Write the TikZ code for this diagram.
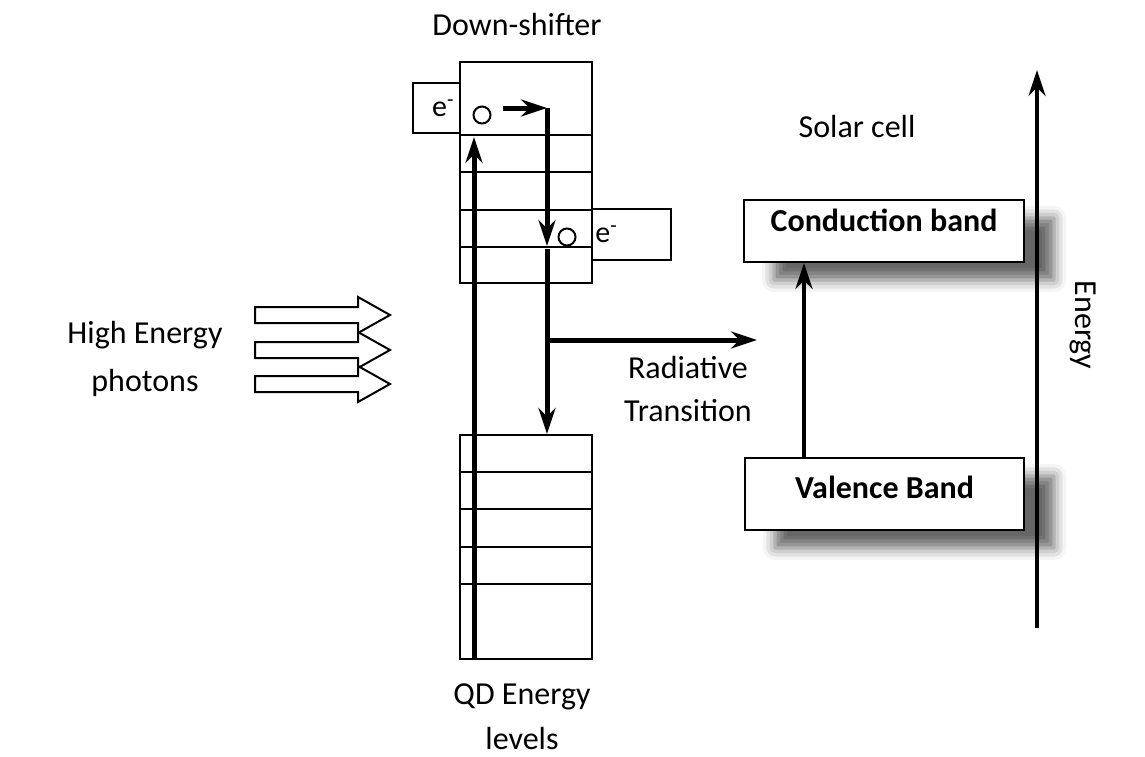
\documentclass[tikz,border=0pt]{standalone}
\usepackage{fontspec}
\setmainfont{Carlito}
\usetikzlibrary{arrows.meta,shadows.blur}

\begin{document}
\begin{tikzpicture}
[x=0.5pt,y=-0.5pt,font=\fontsize{16}{22}\selectfont,
  levelDecorate/.style={shape=rectangle,draw,line width=1pt,inner sep=0pt,minimum width=66pt},
  electronDecorate/.style={shape=circle,draw,line width=1pt,inner sep=0pt,minimum size=8.5pt},
  bandDecorate/.style={shape=rectangle,draw,line width=1pt,inner sep=0pt,fill=white,
    font=\fontsize{16}{20}\selectfont\bfseries,
    blur shadow={shadow xshift=15pt,shadow yshift=-9pt,shadow blur radius=6pt,shadow opacity=60}},
  lineDecorate/.style={line width=2.5pt,-{Stealth[length=13pt,width=8.5pt]}},
  photonDecorate/.style={draw,line width=1pt,fill=white,line join=miter}]
\useasboundingbox (0,0) rectangle (1145,756);
%% electron boxes
\node (eLeft) at (436.5,108) [levelDecorate,minimum width=23.5pt,minimum height=25pt] {};
\node (eRight) at (631.5,234.5) [levelDecorate,minimum width=39.5pt,minimum height=25.5pt] {};
%% QD levels
\foreach \nodename/\y/\h in {
  u1/98.5/36.5, u2/153.5/18.5, u3/191/19, u4/228.5/18.5, u5/265/18,
  l1/453.5/18.5, l2/490.5/18.5, l3/528/19, l4/565.5/18.5, l5/621.5/37.5}
{
  \node (\nodename) at (526,\y) [levelDecorate,minimum height=\h pt] {};
}
\node at (eLeft.east) [anchor=east,inner sep=3pt,font=\fontsize{15}{15}\selectfont] {e\textsuperscript{-}};
\node at (eRight.west) [anchor=west,inner sep=2pt,font=\fontsize{15}{15}\selectfont] {e\textsuperscript{-}};
\node (c1) at (482,115) [electronDecorate] {};
\node (c2) at (567,237) [electronDecorate] {};
%% solar cell bands
\node (cb) at (884,231) [bandDecorate,minimum width=140pt,minimum height=31pt,
  text height=8pt,text depth=8pt] {Conduction band};
\node (vb) at (884.5,494) [bandDecorate,minimum width=139.5pt,minimum height=36pt,
  text height=10pt,text depth=6pt] {Valence Band};
%% photons
\foreach \y in {315,350,384}
{
  \draw[photonDecorate] (255,\y-8) -- (358,\y-8) -- (358,\y-18) -- (390,\y)
    -- (358,\y+18) -- (358,\y+8) -- (255,\y+8) -- cycle;
}
%% transitions
\foreach \cname/\x/\y in {
  hopStart/503/108, hop/547/108, hopEnd/547/246, dropStart/547/249,
  dropEnd/547/434, branch/547/340, radEnd/757/340, pumpStart/474/659,
  pumpEnd/474/137, exciteStart/804/458, exciteEnd/804/263,
  energyStart/1037/628, energyEnd/1037/70}
{
  \coordinate (\cname) at (\x,\y);
}
\path
\foreach \startnode/\endnode in {
  hopStart/hop, hop/hopEnd, dropStart/dropEnd, branch/radEnd, pumpStart/pumpEnd}
{
  (\startnode) edge[lineDecorate] (\endnode)
};
\path
\foreach \startnode/\endnode in {exciteStart/exciteEnd, energyStart/energyEnd}
{
  (\startnode) edge[lineDecorate,line width=2pt] (\endnode)
};
%% labels
\node (downLabel) at (517,25) {Down-shifter};
\node (cellLabel) at (857,127) {Solar cell};
\node (photonLabel) at (145,359) [align=center,font=\fontsize{16}{24}\selectfont] {High Energy\\photons};
\node (radLabel) at (688,389) [align=center,font=\fontsize{16}{21.5}\selectfont] {Radiative\\Transition};
\node (qdLabel) at (522,717) [align=center,font=\fontsize{16}{22.5}\selectfont] {QD Energy\\levels};
\node (energyLabel) at (1083,325) [rotate=-90] {Energy};
\end{tikzpicture}
\end{document}
